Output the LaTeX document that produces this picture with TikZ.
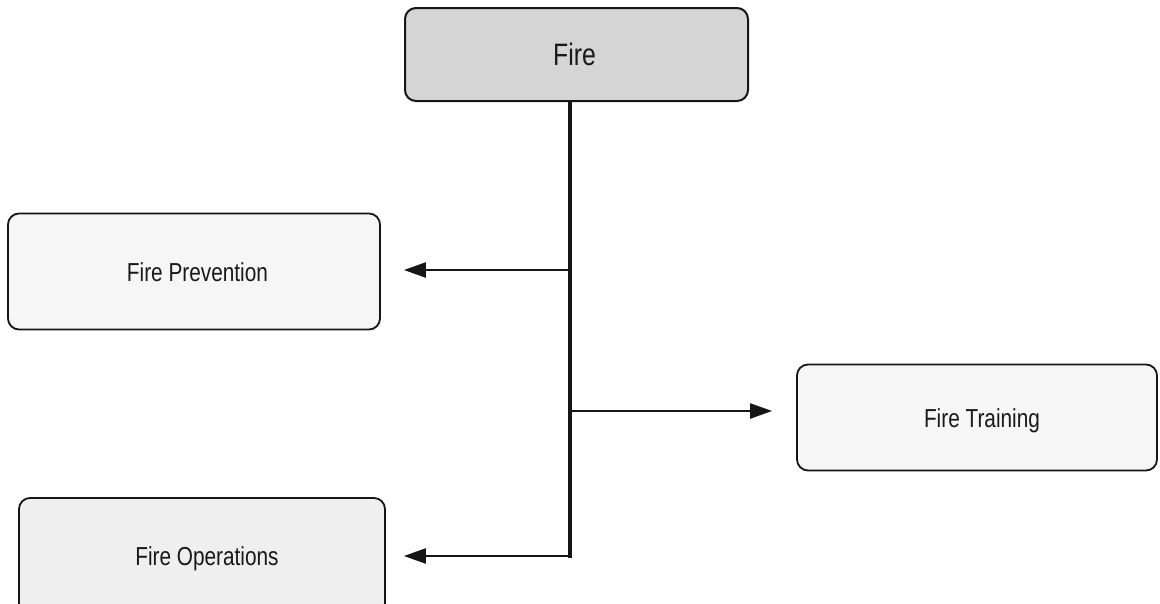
\documentclass[tikz,border=0pt]{standalone}
\usepackage{fontspec}
\setmainfont{Liberation Sans}
\newfontfamily\narrowsans[FakeStretch=0.8]{Liberation Sans}
\usetikzlibrary{arrows.meta}
\definecolor{rootfill}{HTML}{D6D5D5}
\definecolor{leaffill}{HTML}{F6F6F6}
\definecolor{inkline}{HTML}{161616}
\tikzset{
  x=1pt, y=-1pt,
  box/.style={draw=inkline, line width=1.8pt, rounded corners=11pt, fill=leaffill,
              inner sep=0pt, text=black!90, text depth=0pt},
  rootbox/.style={box, fill=rootfill, line width=2pt, text height=22pt,
                  font=\narrowsans\fontsize{31}{36}\selectfont},
  leafbox/.style={box, text height=19pt, font=\narrowsans\fontsize{26}{30}\selectfont},
  spine/.style={draw=inkline, line width=3.2pt},
  branch/.style={draw=inkline, line width=2.4pt, -{Triangle[length=22pt,width=15pt]}}
}
\begin{document}
\begin{tikzpicture}
  \useasboundingbox (0,0) rectangle (1160,603);
  \clip (0,0) rectangle (1160,603);
  \fill[white] (0,0) rectangle (1160,603);

  % boxes
  \node[rootbox, minimum width=343pt, minimum height=93pt] (fire) at (576.5,54.5) {\hspace*{-4pt}Fire};
  \node[leafbox, minimum width=372pt, minimum height=116pt] (prev) at (194,271.5) {\hspace*{7pt}Fire Prevention};
  \node[leafbox, minimum width=360pt, minimum height=106pt] (train) at (977,417.5) {\hspace*{10pt}Fire Training};
  \node[leafbox, minimum width=366pt, minimum height=116pt, fill=leaffill!97!black] (ops) at (202,556) {\hspace*{10pt}Fire Operations};

  % vertical trunk
  \coordinate (top) at (570,101);
  \coordinate (jprev) at (570,270);
  \coordinate (jtrain) at (570,411);
  \coordinate (jops) at (570,556);
  \draw[spine] (top) -- ([yshift=-1.6pt]jops);

  % branches
  \draw[branch, shorten >=23pt] (jprev) -- (jprev -| prev.east);
  \draw[branch, shorten >=24pt] (jtrain) -- (jtrain -| train.west);
  \draw[branch, shorten >=18pt] (jops) -- (jops -| ops.east);
\end{tikzpicture}
\end{document}
